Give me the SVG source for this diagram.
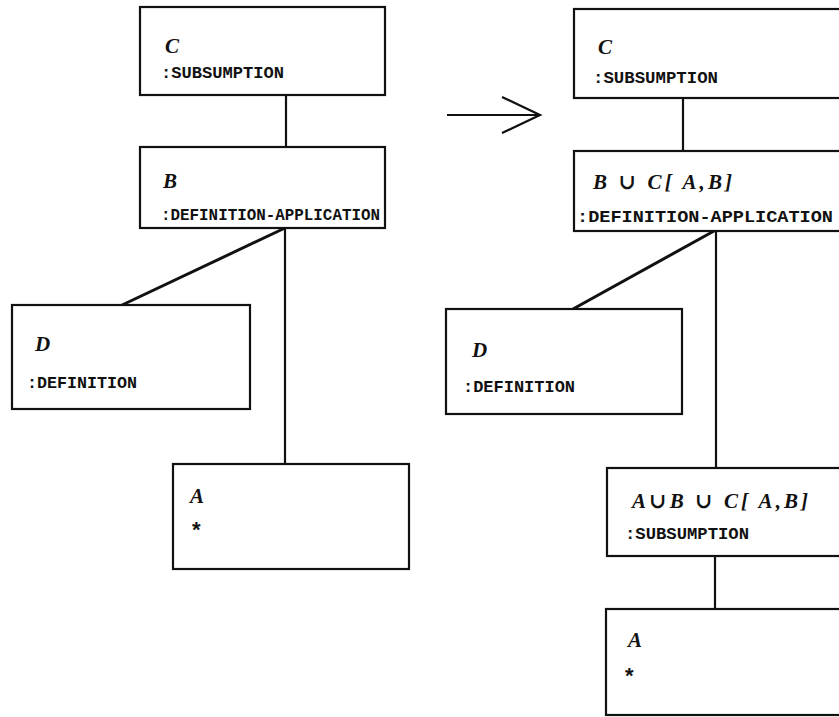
<svg xmlns="http://www.w3.org/2000/svg" width="839" height="717" viewBox="0 0 839 717">
  <style>
    .box { fill: #fff; stroke: #111; stroke-width: 2.2; }
    .edge { stroke: #111; stroke-width: 2.2; fill: none; }
    .diag { stroke: #111; stroke-width: 3; fill: none; }
    .lbl { font-family: "Liberation Serif", "DejaVu Serif", serif; font-style: italic; font-weight: bold; font-size: 21px; fill: #111; }
    .role { font-family: "Liberation Mono", "DejaVu Sans Mono", monospace; font-weight: bold; font-size: 17px; fill: #111; }
    .star { font-family: "Liberation Sans", sans-serif; font-weight: bold; font-size: 22px; fill: #111; }
  </style>
  <rect width="839" height="717" fill="#fff"/>

  <!-- tree connectors -->
  <g id="connectors">
    <line class="edge" x1="286" y1="95" x2="286" y2="148"/>
    <line class="diag" x1="285" y1="228" x2="120" y2="306"/>
    <line class="edge" x1="285" y1="228" x2="285" y2="465"/>
    <line class="edge" x1="683" y1="98" x2="683" y2="152"/>
    <line class="diag" x1="714" y1="231" x2="573" y2="309"/>
    <line class="edge" x1="716" y1="231" x2="716" y2="468"/>
    <line class="edge" x1="715" y1="556" x2="715" y2="609"/>
    <!-- transformation arrow -->
    <line class="edge" x1="447" y1="115" x2="539" y2="115"/>
    <polyline class="edge" points="502,97 540,115 502,133"/>
  </g>

  <!-- left tree -->
  <g id="left-c">
    <rect class="box" x="140" y="7" width="245" height="88"/>
    <text class="lbl" x="165" y="53">C</text>
    <text class="role" x="161" y="78" textLength="123" lengthAdjust="spacingAndGlyphs">:SUBSUMPTION</text>
  </g>
  <g id="left-b">
    <rect class="box" x="140" y="147" width="245" height="81"/>
    <text class="lbl" x="163" y="188">B</text>
    <text class="role" x="161" y="220" textLength="219" lengthAdjust="spacingAndGlyphs">:DEFINITION-APPLICATION</text>
  </g>
  <g id="left-d">
    <rect class="box" x="12" y="305" width="238" height="104"/>
    <text class="lbl" x="35" y="351">D</text>
    <text class="role" x="27" y="388" textLength="110" lengthAdjust="spacingAndGlyphs">:DEFINITION</text>
  </g>
  <g id="left-a">
    <rect class="box" x="173" y="464" width="236" height="105"/>
    <text class="lbl" x="190" y="503">A</text>
    <text class="star" x="192" y="537">*</text>
  </g>

  <!-- right tree -->
  <g id="right-c">
    <rect class="box" x="574" y="9" width="280" height="89"/>
    <text class="lbl" x="598" y="54">C</text>
    <text class="role" x="593" y="83" textLength="125" lengthAdjust="spacingAndGlyphs">:SUBSUMPTION</text>
  </g>
  <g id="right-b">
    <rect class="box" x="574" y="151" width="280" height="80"/>
    <text class="lbl" x="593" y="189" textLength="139" lengthAdjust="spacing">B <tspan font-style="normal">∪</tspan> C[ A,B]</text>
    <text class="role" x="577" y="222" textLength="256" lengthAdjust="spacingAndGlyphs">:DEFINITION-APPLICATION</text>
  </g>
  <g id="right-d">
    <rect class="box" x="446" y="309" width="236" height="105"/>
    <text class="lbl" x="472" y="357">D</text>
    <text class="role" x="463" y="392" textLength="112" lengthAdjust="spacingAndGlyphs">:DEFINITION</text>
  </g>
  <g id="right-abc">
    <rect class="box" x="607" y="468" width="250" height="88"/>
    <text class="lbl" x="632" y="508" textLength="176" lengthAdjust="spacing">A<tspan font-style="normal">∪</tspan>B <tspan font-style="normal">∪</tspan> C[ A,B]</text>
    <text class="role" x="625" y="539" textLength="124" lengthAdjust="spacingAndGlyphs">:SUBSUMPTION</text>
  </g>
  <g id="right-a">
    <rect class="box" x="606" y="609" width="250" height="106"/>
    <text class="lbl" x="628" y="647">A</text>
    <text class="star" x="625" y="683">*</text>
  </g>
</svg>
